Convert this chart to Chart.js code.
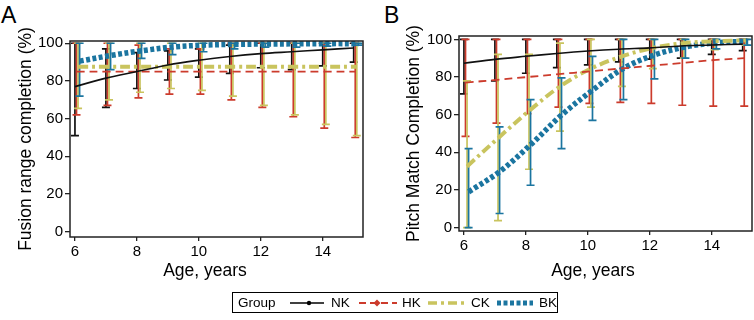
<!DOCTYPE html>
<html>
<head>
<meta charset="utf-8">
<script src="https://cdn.jsdelivr.net/npm/chart.js@4"></script>
<style>
  body { margin: 0; background: #fff; font-family: "Liberation Sans", Arial, sans-serif; }
  #wrap { position: relative; width: 754px; height: 320px; overflow: hidden; }
  .cv { position: absolute; top: 0; }
  .lbl { position: absolute; color: #000; white-space: nowrap; }
  .panel { font-size: 23px; top: 2px; }
  .xt { font-size: 17.5px; top: 260px; transform: translateX(-50%); }
  #legend { position: absolute; left: 232px; top: 292px; width: 324px; height: 19px; border: 1.5px solid #000; font-size: 13.5px; }
  #legend span { position: absolute; top: 2px; }
  #legend svg { position: absolute; top: 0; }
</style>
</head>
<body>
<div id="wrap">
  <div class="lbl panel" style="left:1px">A</div>
  <div class="lbl panel" style="left:384px">B</div>
  <canvas id="chartA" class="cv" style="left:0" width="377" height="280"></canvas>
  <canvas id="chartB" class="cv" style="left:377px" width="377" height="280"></canvas>
  <div class="lbl xt" style="left:205px">Age, years</div>
  <div class="lbl xt" style="left:593px">Age, years</div>
  <div id="legend">
    <span style="left:5px">Group</span>
    <svg style="left:57px" width="36" height="19"><line x1="0" y1="10" x2="34" y2="10" stroke="#000" stroke-width="1.5"/><circle cx="19" cy="10" r="2.2" fill="#000"/></svg>
    <span style="left:98px">NK</span>
    <svg style="left:126px" width="40" height="19"><line x1="0" y1="10" x2="38" y2="10" stroke="#cc3b2c" stroke-width="1.8" stroke-dasharray="7,4"/><path d="M18 6.5 L21.5 10 L18 13.5 L14.5 10 Z" fill="#cc3b2c"/></svg>
    <span style="left:169px">HK</span>
    <svg style="left:195px" width="38" height="19"><line x1="0" y1="10" x2="36" y2="10" stroke="#c9c45e" stroke-width="3.5" stroke-dasharray="9,4,3,4"/></svg>
    <span style="left:238px">CK</span>
    <svg style="left:264px" width="38" height="19"><line x1="0" y1="10" x2="36" y2="10" stroke="#1b75a0" stroke-width="5" stroke-dasharray="4,2.5"/></svg>
    <span style="left:306px">BK</span>
  </div>
</div>
<script>
// ages (x categories) and axis ticks
const ages = [6, 7, 8, 9, 10, 11, 12, 13, 14, 15];
const xTicks = [6, 8, 10, 12, 14];
const yTicks = [0, 20, 40, 60, 80, 100];
const groups = ["NK", "HK", "CK", "BK"];

// Panel A - fusion range completion (%)
const nkA = [77, 81.5, 85, 88.5, 91, 93, 94.5, 95.5, 96.5, 97.5];
const nkALo = [51, 66, 76, 80.5, 82, 84, 87, 86, 88, 90];
const nkAHi = [100, 97, 95, 96, 97, 99, 100, 100, 100, 100];
const hkA = [85, 85, 85, 85, 85, 85, 85, 85, 85, 85];
const hkALo = [62, 67, 71, 73, 73, 70, 66, 61, 55, 50];
const hkAHi = [100, 100, 99, 97, 97, 100, 100, 100, 100, 100];
const ckA = [87.5, 87.5, 87.5, 87.5, 87.5, 87.5, 87.5, 87.5, 87.5, 87.5];
const ckALo = [65.5, 70, 74, 76, 75, 72, 67, 62, 57, 51];
const ckAHi = [100, 100, 100, 100, 100, 100, 100, 100, 100, 100];
const bkA = [90.5, 93.5, 96, 98, 99, 99.4, 99.6, 99.7, 99.8, 99.8];
const bkALo = [72, 86, 92, 94, 95.5, 97, 98, 98, 98.5, 99];
const bkAHi = [100, 100, 100, 100, 100, 100, 100, 100, 100, 100];

// Panel B - pitch match completion (%)
const nkB = [87.3, 89.4, 91, 92.5, 93.8, 94.8, 95.5, 96.5, 97, 97.5];
const nkBLo = [71, 78, 82, 85, 86.5, 88, 89.5, 90, 92, 94];
const nkBHi = [100, 100, 100, 100, 100, 100, 100, 100, 100, 100];
const hkB = [77, 78.5, 80, 81.5, 83, 84.5, 86, 87.5, 89, 90];
const hkBLo = [48.5, 55.5, 60.5, 64, 66, 66.5, 66, 65, 64.5, 64.5];
const hkBHi = [100, 100, 100, 100, 100, 100, 100, 100, 100, 100];
const ckB = [32.5, 47.5, 62, 75, 84.5, 91, 95.5, 98, 99, 99.5];
const ckBLo = [0, 3.7, 31, 51.3, 64, 75, 84.5, 90, 94.5, 97];
const ckBHi = [78, 92, 92, 98, 100, 100, 100, 100, 100, 100];
const bkB = [19, 29.7, 44, 59.8, 73, 84.6, 91.7, 96, 98.2, 99];
const bkBLo = [0, 7.5, 22.5, 42, 57, 68, 79, 90, 95, 97];
const bkBHi = [42, 53.5, 68, 79.5, 91, 100, 100, 100, 100, 100];

const FONT = "'Liberation Sans', Arial, sans-serif";

const styles = {
  NK: { color: "#111111", width: 1.6, dash: [], dodge: 0.0 },
  HK: { color: "#cc3b2c", width: 1.8, dash: [8, 5], dodge: 0.05 },
  CK: { color: "#c9c45e", width: 4, dash: [10, 4, 3, 4], dodge: 0.1 },
  BK: { color: "#1b75a0", width: 5.5, dash: [4, 2.5], dodge: 0.15 }
};

function makeDataset(name, mean, lo, hi) {
  const s = styles[name];
  return {
    label: name,
    data: ages.map((a, i) => ({ x: a + s.dodge, y: mean[i], lo: lo[i], hi: hi[i] })),
    borderColor: s.color,
    borderWidth: s.width,
    borderDash: s.dash,
    pointRadius: 0,
    tension: 0.35,
    fill: false
  };
}

// error bars drawn through the chart scales, before the lines
const errorBars = {
  id: "errorBars",
  beforeDatasetsDraw(chart) {
    const { ctx, scales: { x, y } } = chart;
    chart.data.datasets.forEach((ds) => {
      ctx.save();
      ctx.strokeStyle = ds.borderColor;
      ctx.lineWidth = 1.7;
      ds.data.forEach((p) => {
        const px = x.getPixelForValue(p.x);
        const lo = y.getPixelForValue(p.lo);
        const hi = y.getPixelForValue(p.hi);
        ctx.beginPath();
        ctx.moveTo(px, lo); ctx.lineTo(px, hi);
        ctx.moveTo(px - 4, lo); ctx.lineTo(px + 4, lo);
        ctx.moveTo(px - 4, hi); ctx.lineTo(px + 4, hi);
        ctx.stroke();
      });
      ctx.restore();
    });
  }
};

const frame = {
  id: "frame",
  afterDraw(chart) {
    const { ctx, chartArea: a } = chart;
    ctx.save();
    ctx.strokeStyle = "#222";
    ctx.lineWidth = 1.5;
    ctx.strokeRect(a.left, a.top, a.right - a.left, a.bottom - a.top);
    ctx.restore();
  }
};

function makeChart(id, title, sets, opt) {
  new Chart(document.getElementById(id), {
    type: "line",
    data: { datasets: sets },
    options: {
      responsive: false,
      animation: false,
      layout: { padding: { top: opt.top, right: opt.right, left: 0, bottom: 0 } },
      plugins: { legend: { display: false }, tooltip: { enabled: false } },
      scales: {
        x: {
          type: "linear",
          min: 5.84,
          max: 15.3,
          afterBuildTicks: (s) => { s.ticks = xTicks.map((v) => ({ value: v })); },
          afterFit: (s) => { s.height = opt.xHeight; },
          border: { display: false },
          grid: { drawOnChartArea: false, drawTicks: true, tickLength: 4, color: "#222", lineWidth: 1.3 },
          ticks: { color: "#000", padding: 2, maxRotation: 0, font: { family: FONT, size: 15 } }
        },
        y: {
          min: opt.yMin,
          max: opt.yMax,
          afterBuildTicks: (s) => { s.ticks = yTicks.map((v) => ({ value: v })); },
          afterFit: (s) => { s.width = opt.yWidth; },
          border: { display: false },
          grid: { drawOnChartArea: false, drawTicks: true, tickLength: 5, color: "#222", lineWidth: 1.3 },
          ticks: { color: "#000", padding: 2, font: { family: FONT, size: 15 } },
          title: {
            display: true,
            text: title,
            color: "#000",
            padding: { top: opt.titlePad, bottom: 0 },
            font: { family: FONT, size: 17.5 }
          }
        }
      }
    },
    plugins: [errorBars, frame]
  });
}

makeChart("chartA", "Fusion range completion (%)", [
  makeDataset("NK", nkA, nkALo, nkAHi),
  makeDataset("HK", hkA, hkALo, hkAHi),
  makeDataset("CK", ckA, ckALo, ckAHi),
  makeDataset("BK", bkA, bkALo, bkAHi)
], { top: 41, right: 14, xHeight: 43, yWidth: 70, yMin: -2.8, yMax: 101.2, titlePad: 16 });

makeChart("chartB", "Pitch Match Completion (%)", [
  makeDataset("NK", nkB, nkBLo, nkBHi),
  makeDataset("HK", hkB, hkBLo, hkBHi),
  makeDataset("CK", ckB, ckBLo, ckBHi),
  makeDataset("BK", bkB, bkBLo, bkBHi)
], { top: 36, right: 2, xHeight: 49, yWidth: 82, yMin: -1.8, yMax: 101.8, titlePad: 27 });
</script>
</body>
</html>
